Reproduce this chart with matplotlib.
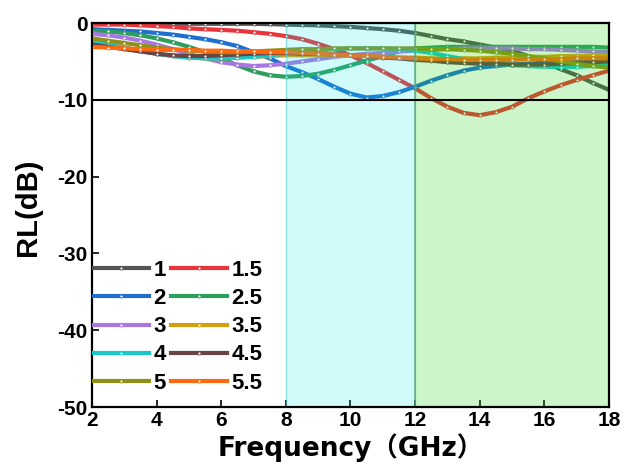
import matplotlib
matplotlib.use("Agg")
import matplotlib.pyplot as plt

freq = [2, 2.5, 3, 3.5, 4, 4.5, 5, 5.5, 6, 6.5, 7, 7.5, 8, 8.5, 9, 9.5, 10,
        10.5, 11, 11.5, 12, 12.5, 13, 13.5, 14, 14.5, 15, 15.5, 16, 16.5, 17, 17.5, 18]

rl_1 = [-0.1, -0.1, -0.1, -0.1, -0.1, -0.1, -0.1, -0.1, -0.1, -0.1, -0.1, -0.15, -0.2, -0.25, -0.3, -0.4, -0.5,
        -0.65, -0.8, -1.0, -1.3, -1.7, -2.1, -2.4, -2.8, -3.2, -3.6, -4.3, -5.2, -6.0, -6.8, -7.8, -8.7]
rl_15 = [-0.2, -0.2, -0.2, -0.3, -0.4, -0.5, -0.7, -0.8, -0.9, -1.0, -1.2, -1.4, -1.7, -2.1, -2.7, -3.4, -4.2,
         -5.2, -6.3, -7.4, -8.5, -9.8, -10.9, -11.7, -12.0, -11.6, -10.9, -9.8, -8.9, -8.1, -7.4, -6.8, -6.2]
rl_2 = [-0.8, -0.9, -1.0, -1.1, -1.3, -1.5, -1.8, -2.1, -2.5, -3.0, -3.8, -4.6, -5.6, -6.4, -7.3, -8.3, -9.2,
        -9.7, -9.5, -9.0, -8.3, -7.5, -6.8, -6.2, -5.8, -5.6, -5.4, -5.3, -5.2, -5.1, -5.1, -5.0, -5.0]
rl_25 = [-1.0, -1.1, -1.3, -1.6, -2.0, -2.5, -3.1, -3.8, -4.6, -5.5, -6.3, -6.8, -7.0, -6.9, -6.6, -6.1, -5.5,
         -4.9, -4.3, -3.7, -3.3, -3.2, -3.1, -3.1, -3.1, -3.1, -3.1, -3.1, -3.1, -3.1, -3.1, -3.1, -3.2]
rl_3 = [-1.4, -1.6, -1.9, -2.3, -2.8, -3.4, -4.0, -4.6, -5.1, -5.4, -5.6, -5.5, -5.3, -5.0, -4.7, -4.4, -4.2,
        -4.0, -3.9, -3.7, -3.6, -3.5, -3.4, -3.3, -3.3, -3.3, -3.3, -3.4, -3.4, -3.5, -3.6, -3.7, -3.8]
rl_35 = [-2.2, -2.7, -3.2, -3.6, -4.0, -4.3, -4.5, -4.6, -4.6, -4.5, -4.4, -4.3, -4.2, -4.2, -4.2, -4.2, -4.2,
         -4.3, -4.4, -4.5, -4.5, -4.6, -4.6, -4.6, -4.6, -4.5, -4.5, -4.4, -4.4, -4.3, -4.3, -4.2, -4.2]
rl_4 = [-2.5, -2.8, -3.2, -3.6, -4.0, -4.3, -4.5, -4.6, -4.6, -4.5, -4.4, -4.2, -4.0, -3.8, -3.6, -3.4, -3.3,
        -3.3, -3.3, -3.4, -3.6, -3.9, -4.3, -4.7, -5.0, -5.3, -5.5, -5.6, -5.7, -5.7, -5.7, -5.6, -5.5]
rl_45 = [-2.8, -3.1, -3.4, -3.7, -4.0, -4.2, -4.3, -4.3, -4.2, -4.1, -4.0, -3.9, -3.9, -4.0, -4.0, -4.1, -4.2,
         -4.3, -4.5, -4.6, -4.8, -4.9, -5.1, -5.2, -5.3, -5.3, -5.4, -5.4, -5.4, -5.3, -5.2, -5.1, -5.0]
rl_5 = [-2.0, -2.3, -2.6, -2.9, -3.2, -3.4, -3.6, -3.7, -3.8, -3.8, -3.7, -3.6, -3.5, -3.4, -3.4, -3.3, -3.3,
        -3.3, -3.3, -3.3, -3.3, -3.4, -3.4, -3.5, -3.6, -3.8, -4.0, -4.3, -4.6, -5.0, -5.3, -5.6, -5.8]
rl_55 = [-3.1, -3.2, -3.3, -3.4, -3.5, -3.5, -3.5, -3.6, -3.6, -3.7, -3.7, -3.8, -3.8, -3.9, -4.0, -4.1, -4.2,
         -4.3, -4.4, -4.5, -4.6, -4.7, -4.7, -4.8, -4.8, -4.8, -4.8, -4.7, -4.7, -4.7, -4.6, -4.6, -4.6]

labels = ["1", "1.5", "2", "2.5", "3", "3.5", "4", "4.5", "5", "5.5"]
series = [rl_1, rl_15, rl_2, rl_25, rl_3, rl_35, rl_4, rl_45, rl_5, rl_55]
colors = ["#555555", "#e8343a", "#1f6fd0", "#2e9e5e", "#a878e0",
          "#d4a012", "#18c8c8", "#6a4444", "#909018", "#ff6a10"]

xticks = [2, 4, 6, 8, 10, 12, 14, 16, 18]
yticks = [0, -10, -20, -30, -40, -50]

fig = plt.figure(figsize=(6.27, 4.70), dpi=100)
ax = fig.add_axes([0.1467, 0.134, 0.8246, 0.817])

handles = []
for ys, lab, c in zip(series, labels, colors):
    h, = ax.plot(freq, ys, color=c, lw=3.0, marker='o', ms=2.2,
                 markerfacecolor='white', markeredgecolor=c, markeredgewidth=0.6,
                 label=lab, zorder=2)
    handles.append(h)

ax.axvspan(8, 12, facecolor=(0.0, 0.9, 0.9, 0.18), edgecolor=(0.3, 0.8, 0.8, 0.6), lw=1.0, zorder=3)
ax.axvspan(12, 18, facecolor=(0.1, 0.85, 0.05, 0.22), edgecolor=(0.3, 0.6, 0.4, 0.7), lw=1.2, zorder=3)
ax.axhline(-10, color='black', lw=1.5, zorder=4)

ax.set_xlim(2, 18)
ax.set_ylim(-50, 0)
ax.set_xticks(xticks)
ax.set_yticks(yticks)
ax.set_xticklabels([str(t) for t in xticks], fontsize=15, fontweight='bold', family='Liberation Sans')
ax.set_yticklabels([str(t) for t in yticks], fontsize=15, fontweight='bold', family='Liberation Sans')
ax.tick_params(direction='in', length=5, width=1.2, pad=3)
for s in ax.spines.values():
    s.set_linewidth(1.6)
    s.set_zorder(5)

ax.set_xlabel("Frequency（GHz）", fontsize=19, fontweight='bold',
              family=['DejaVu Sans', 'Noto Sans CJK SC'], labelpad=2)
ax.set_ylabel("RL(dB)", fontsize=21, fontweight='bold', family='Liberation Sans')
ax.yaxis.set_label_coords(-0.097, 0.52)

order = [0, 2, 4, 6, 8, 1, 3, 5, 7, 9]
leg = ax.legend([handles[i] for i in order], [labels[i] for i in order], ncol=2,
                loc='lower left', bbox_to_anchor=(0.003, 0.035), frameon=False,
                prop={'family': 'Liberation Sans', 'weight': 'bold', 'size': 16},
                handlelength=2.5, handletextpad=0.2, columnspacing=0.25,
                labelspacing=0.32, borderaxespad=0.0, borderpad=0.0)
leg.set_zorder(6)

fig.savefig("out.png", dpi=100)
